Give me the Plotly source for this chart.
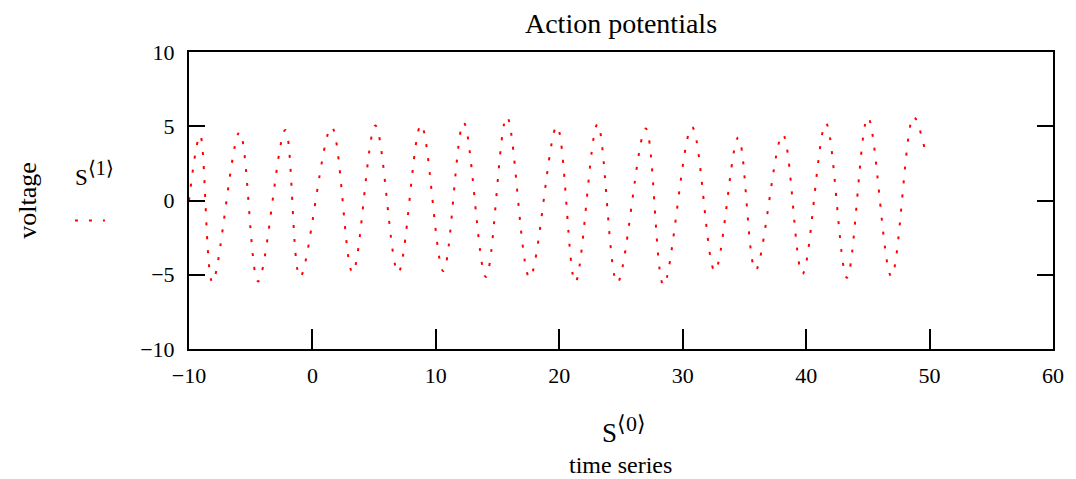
import plotly.graph_objects as go

# Extrema of the action-potential trace (time, voltage)
time_s = [-10.0, -9.1, -8.1, -5.9, -4.4, -2.2, -1.0, 1.55, 3.25, 5.1, 6.95, 8.8,
          10.6, 12.25, 14.05, 15.75, 17.6, 19.8, 21.3, 23.1, 24.7, 27.0, 28.45,
          30.75, 32.6, 34.5, 35.9, 38.1, 39.7, 41.6, 43.3, 45.0, 46.9, 48.7, 49.6]
voltage = [0.0, 4.4, -5.5, 4.6, -5.45, 4.75, -5.15, 4.95, -4.85, 5.05, -4.85, 5.1,
           -4.75, 5.25, -5.15, 5.65, -5.2, 5.0, -5.5, 5.15, -5.55, 4.85, -5.7,
           4.95, -4.75, 4.25, -4.7, 4.45, -4.95, 5.2, -5.2, 5.6, -5.1, 5.65, 3.5]

x_ticks = [-10, 0, 10, 20, 30, 40, 50, 60]
y_ticks = [-10, -5, 0, 5, 10]

FONT = "Liberation Serif, Times New Roman, serif"
W, H = 1076, 479
L, R, T, B = 189, 16, 52, 130
pw, ph = W - L - R, H - T - B


def px_x(px):
    return (px - L) / pw


def px_y(py):
    return (H - B - py) / ph


fig = go.Figure()
fig.add_trace(go.Scatter(
    x=time_s, y=voltage, mode="lines", name=" ",
    line=dict(color="#ff0000", width=2, dash="3px,11px", shape="spline", smoothing=1.0),
    showlegend=True,
))

fig.update_layout(
    width=W, height=H,
    margin=dict(l=L, r=R, t=T, b=B),
    paper_bgcolor="white", plot_bgcolor="white",
    font=dict(family=FONT, color="black", size=22),
    title=dict(text="Action potentials", x=0.5, xref="paper", xanchor="center",
               y=1 - 23 / H, yref="container", yanchor="middle",
               font=dict(family=FONT, size=28, color="black")),
    showlegend=True,
    legend=dict(
        x=px_x(69), xanchor="left", xref="paper",
        y=px_y(206), yanchor="top", yref="paper",
        bgcolor="rgba(0,0,0,0)", borderwidth=0,
        font=dict(family=FONT, size=10, color="black"),
        itemwidth=30,
    ),
    xaxis=dict(
        range=[-10, 60], tickvals=x_ticks, ticktext=[str(v).replace("-", "−") for v in x_ticks],
        showgrid=False, zeroline=False,
        showline=True, linecolor="black", linewidth=2, mirror=True,
        ticks="inside", ticklen=20, tickwidth=2, tickcolor="black",
        ticklabelstandoff=6,
        tickfont=dict(family=FONT, size=22, color="black"),
    ),
    yaxis=dict(
        range=[-10, 10], tickvals=y_ticks, ticktext=[str(v).replace("-", "−") for v in y_ticks],
        showgrid=False, zeroline=False,
        showline=True, linecolor="black", linewidth=2, mirror="allticks",
        ticks="inside", ticklen=16, tickwidth=2, tickcolor="black",
        ticklabelstandoff=8,
        tickfont=dict(family=FONT, size=22, color="black"),
    ),
    annotations=[
        dict(text="voltage", textangle=-90, xref="paper", yref="paper",
             x=px_x(26), y=0.5, xanchor="center", yanchor="middle",
             showarrow=False, font=dict(family=FONT, size=26, color="black")),
        dict(text="S<sup><span style='font-size:20px'>⟨1⟩</span></sup>",
             xref="paper", yref="paper",
             x=px_x(94), y=px_y(173), xanchor="center", yanchor="middle",
             showarrow=False, font=dict(family=FONT, size=23, color="black")),
        dict(text="S<sup><span style='font-size:22px'>⟨0⟩</span></sup>",
             xref="paper", yref="paper",
             x=px_x(628), y=px_y(429), xanchor="center", yanchor="middle",
             showarrow=False, font=dict(family=FONT, size=27, color="black")),
        dict(text="time series", xref="paper", yref="paper",
             x=px_x(624), y=px_y(465), xanchor="center", yanchor="middle",
             showarrow=False, font=dict(family=FONT, size=24, color="black")),
    ],
)

fig.write_html("out.html")
